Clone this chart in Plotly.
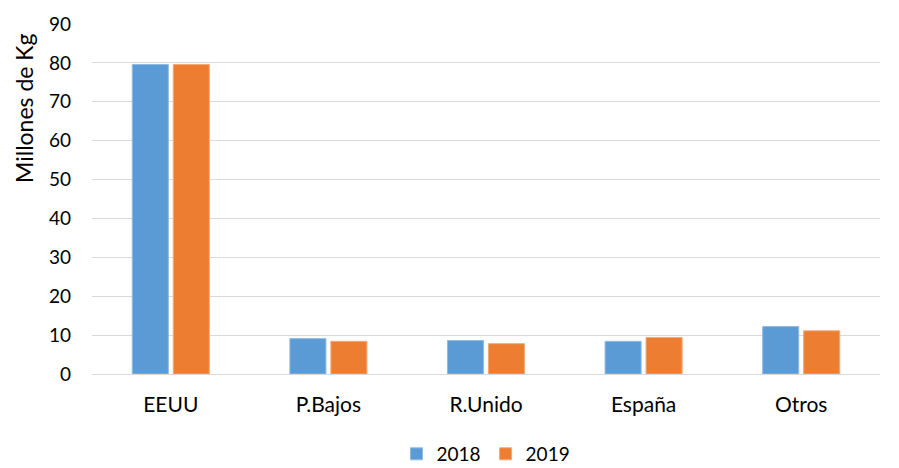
import plotly.graph_objects as go

paises = ["EEUU", "P.Bajos", "R.Unido", "España", "Otros"]
valores_2018 = [79.6, 9.1, 8.6, 8.4, 12.2]
valores_2019 = [79.6, 8.4, 7.8, 9.4, 11.1]

fuente = "Lato"

fig = go.Figure()
fig.add_trace(go.Bar(x=paises, y=valores_2018, name="2018",
                     marker=dict(color="#5b9bd5", line=dict(color="#8fbbe3", width=1))))
fig.add_trace(go.Bar(x=paises, y=valores_2019, name="2019",
                     marker=dict(color="#ed7d31", line=dict(color="#f3a977", width=1))))

fig.update_yaxes(
    range=[0, 90],
    dtick=10,
    showgrid=True,
    gridcolor="#d9d9d9",
    gridwidth=1,
    zeroline=True,
    zerolinecolor="#d9d9d9",
    zerolinewidth=1,
    title=None,
    tickfont=dict(size=19, color="#000000"),
    ticks="",
    ticklabelstandoff=20,
)
fig.update_xaxes(
    showline=False,
    tickfont=dict(size=21, color="#000000"),
    ticks="",
    ticklabelstandoff=16,
)
# título del eje Y arriba, como en el original de Excel
fig.add_annotation(
    text="Millones de Kg",
    xref="paper", yref="paper",
    x=0, xshift=-68, y=0.76,
    xanchor="center", yanchor="middle",
    textangle=-90,
    showarrow=False,
    font=dict(size=23, color="#000000"),
)
fig.update_layout(
    width=899,
    height=468,
    template="plotly_white",
    plot_bgcolor="white",
    paper_bgcolor="white",
    font=dict(family=fuente, color="#000000"),
    barmode="group",
    bargap=0.48,
    bargroupgap=0.12,
    legend=dict(
        orientation="h",
        x=0.5, xanchor="center",
        yref="container", y=0.03, yanchor="middle",
        font=dict(size=19),
        itemwidth=30,
    ),
    margin=dict(l=92, r=19, t=20, b=94),
)

fig.write_html("out.html", config={"displayModeBar": False},
               post_script="document.body.style.margin='0';")
